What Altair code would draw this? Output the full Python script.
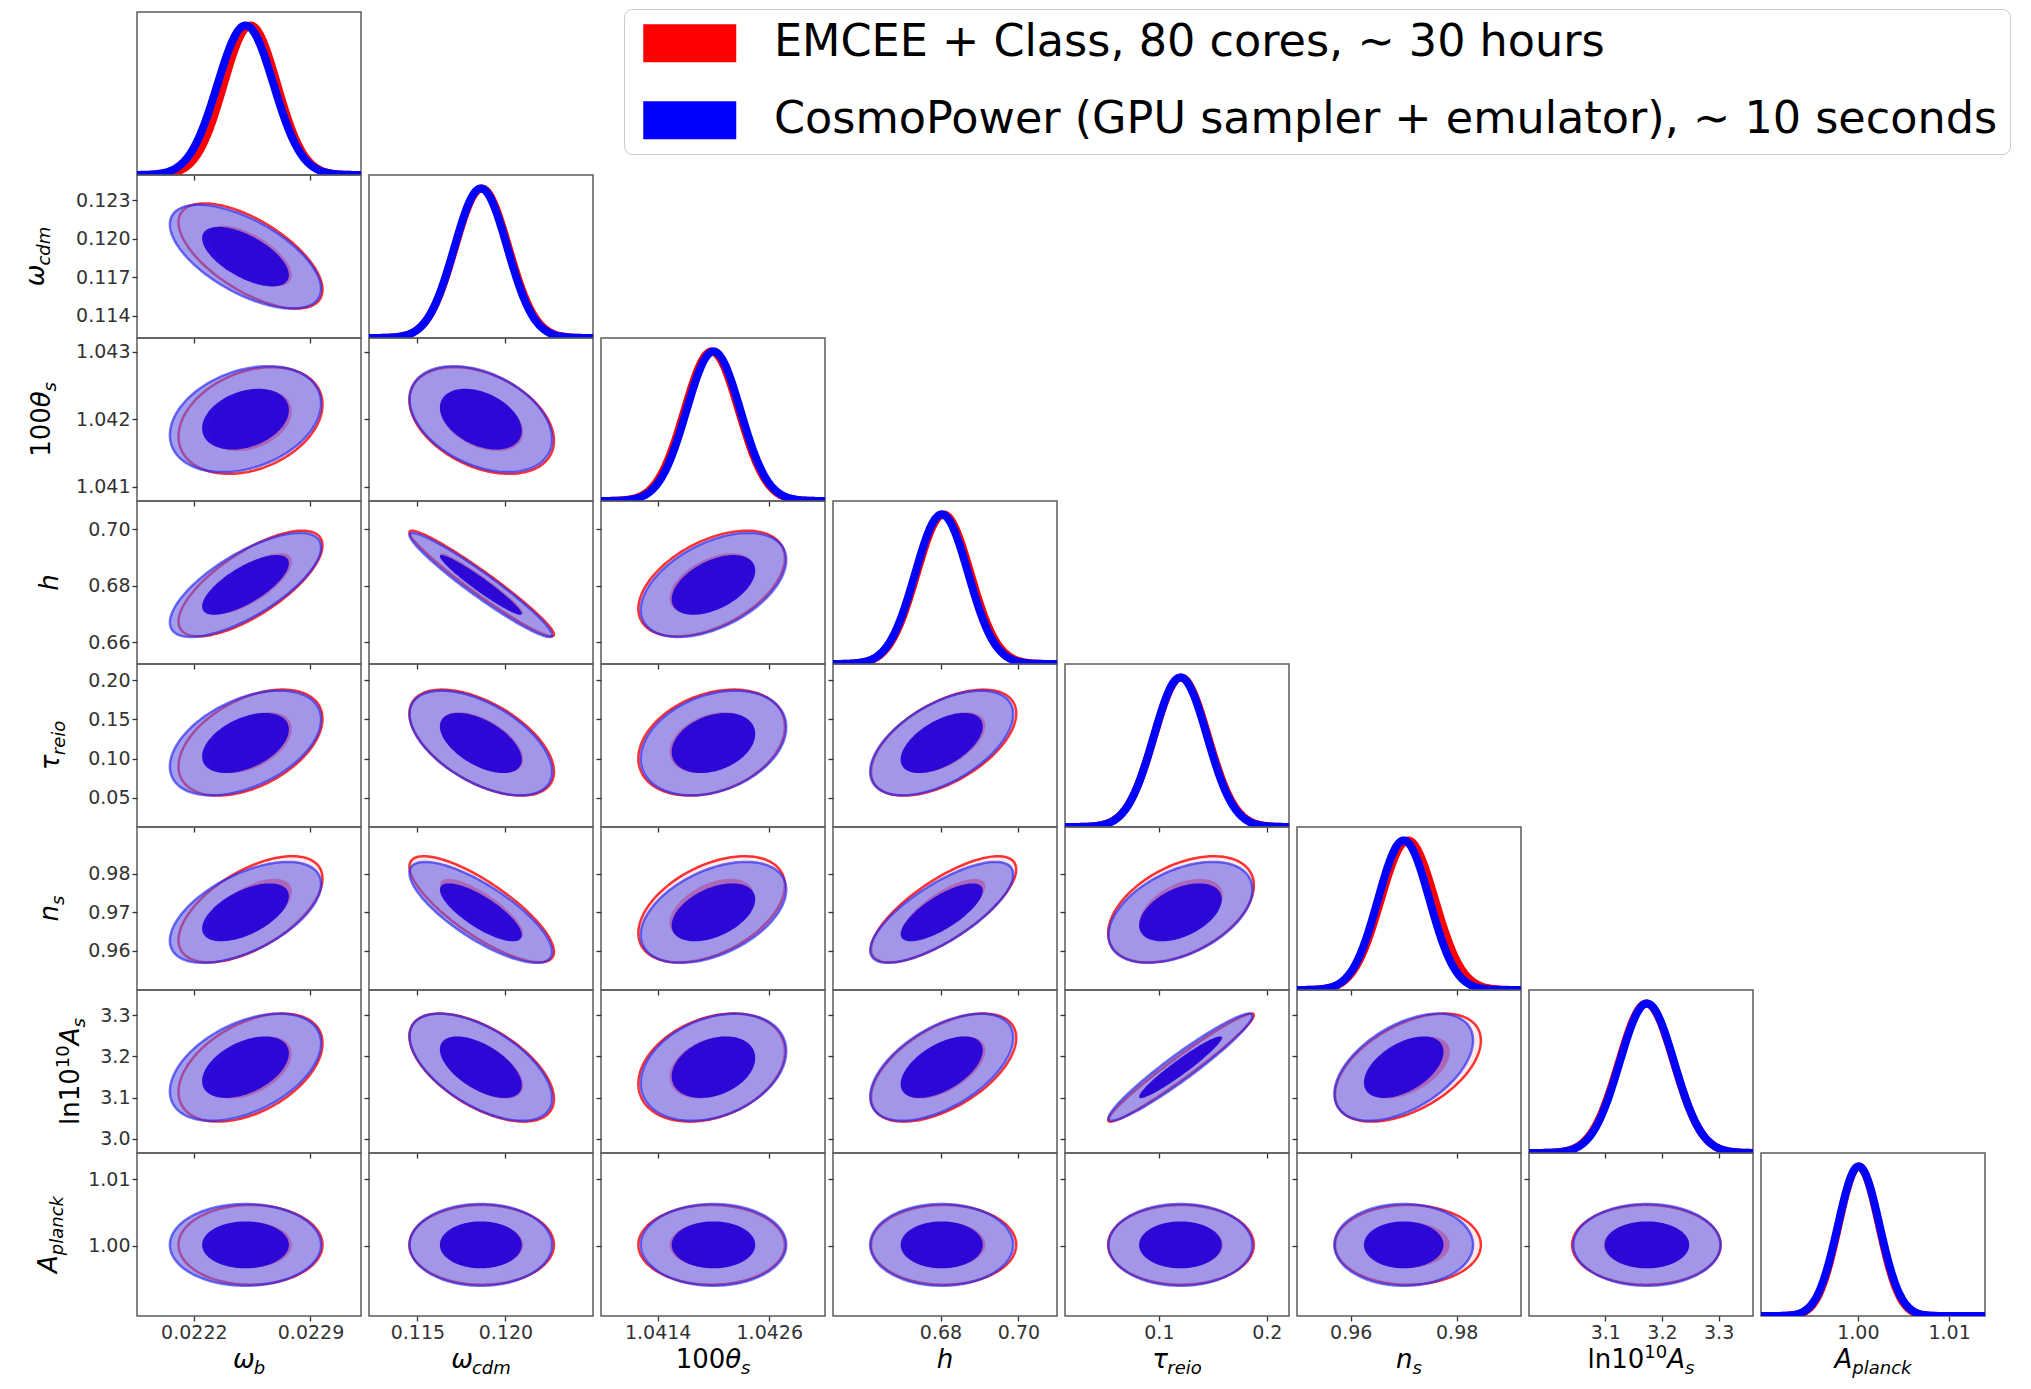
import numpy as np
import pandas as pd
import altair as alt

# ---------------- data ----------------
PARAMS = ["omega_b", "omega_cdm", "100theta_s", "h", "tau_reio", "n_s", "ln10^10A_s", "A_planck"]
LO = [0.021859, 0.11225, 1.040790, 0.65240, 0.0130, 0.94985, 2.9655, 0.98939]
HI = [0.023203, 0.12497, 1.043200, 0.70990, 0.2206, 0.99215, 3.3606, 1.01393]
XTICKS = [[0.0222, 0.0229], [0.115, 0.120], [1.0414, 1.0426], [0.68, 0.70],
          [0.1, 0.2], [0.96, 0.98], [3.1, 3.2, 3.3], [1.00, 1.01]]
XFMT = [".4f", ".3f", ".4f", ".2f", ".1f", ".2f", ".1f", ".2f"]
YTICKS = [[], [0.114, 0.117, 0.120, 0.123], [1.041, 1.042, 1.043], [0.66, 0.68, 0.70],
          [0.05, 0.10, 0.15, 0.20], [0.96, 0.97, 0.98], [3.0, 3.1, 3.2, 3.3], [1.00, 1.01]]
YFMT = ["", ".3f", ".3f", ".2f", ".2f", ".2f", ".1f", ".2f"]

MEAN_RED = [0.02254, 0.11865, 1.04198, 0.6808, 0.1205, 0.9708, 3.1725, 1.0001]
MEAN_BLUE = [0.02251, 0.11860, 1.04200, 0.6803, 0.1200, 0.9700, 3.1735, 1.0001]
SIG_RED = [0.000160, 0.00152, 0.000292, 0.0069, 0.0250, 0.00510, 0.0485, 0.00222]
SIG_BLUE = [0.000168, 0.00150, 0.000290, 0.0068, 0.0247, 0.00485, 0.0481, 0.00228]

CORR_RED = [
    [],
    [-0.64],
    [0.30, -0.38],
    [0.72, -0.965, 0.48],
    [0.45, -0.55, 0.30, 0.55],
    [0.58, -0.80, 0.45, 0.75, 0.45],
    [0.45, -0.58, 0.30, 0.55, 0.970, 0.50],
    [0.0, 0.0, 0.0, 0.0, 0.0, 0.0, 0.0],
]
CORR_BLUE = [
    [],
    [-0.62],
    [0.30, -0.38],
    [0.72, -0.960, 0.48],
    [0.45, -0.55, 0.30, 0.55],
    [0.56, -0.78, 0.45, 0.75, 0.45],
    [0.45, -0.58, 0.30, 0.55, 0.955, 0.50],
    [0.0, 0.0, 0.0, 0.0, 0.0, 0.0, 0.0],
]
LEVELS = {"inner": 1.55, "outer": 2.7}

LABEL_RED = "EMCEE + Class, 80 cores, \u223c 30 hours"
LABEL_BLUE = "CosmoPower (GPU sampler + emulator), \u223c 10 seconds"

# axis titles: (text, kind) kind: r=roman, i=italic, sub, sup
TITLES = [
    [("\u03c9", "i"), ("b", "sub")],
    [("\u03c9", "i"), ("cdm", "sub")],
    [("100", "r"), ("\u03b8", "i"), ("s", "sub")],
    [("h", "i")],
    [("\u03c4", "i"), ("reio", "sub")],
    [("n", "i"), ("s", "sub")],
    [("ln10", "r"), ("10", "sup"), ("A", "i"), ("s", "sub")],
    [("A", "i"), ("planck", "sub")],
]
YTITLE_BASE = [0, -93, -87, -79, -78, -79, -58, -80]

# ---------------- layout / style ----------------
W, H = 224, 163
FONT = "DejaVu Sans"
ONE = pd.DataFrame({"k": [0]})
S_MAIN, S_SUB = 26, 18
CW = {"0": .636, "1": .636, "2": .636, "3": .636, "4": .636, "5": .636, "6": .636,
      "7": .636, "8": .636, "9": .636, "l": .278, "n": .634, "h": .634, "A": .684,
      "b": .635, "c": .550, "d": .635, "m": .974, "s": .521, "r": .411, "e": .615,
      "i": .278, "o": .612, "p": .635, "a": .613, "k": .579,
      "\u03c9": .80, "\u03b8": .60, "\u03c4": .58}

STYLE = [
    ("red", "outer", dict(fill="#ff3030", fillOpacity=0.10, stroke="#ff0000", strokeWidth=2.5, strokeOpacity=0.8)),
    ("blue", "outer", dict(fill="#645de6", fillOpacity=0.60, stroke="#2626f0", strokeWidth=2.5, strokeOpacity=0.65)),
    ("red", "inner", dict(fill="#c00050", fillOpacity=0.30)),
    ("blue", "inner", dict(fill="#2200d8", fillOpacity=0.93)),
]

SWATCH = "M-2.447,-1H2.447V1H-2.447Z"


def tw(s, size):
    return sum(CW.get(c, 0.6) for c in s) * size


def title_parts(p):
    out, cum = [], 0.0
    for txt, kind in TITLES[p]:
        size = S_MAIN if kind in ("i", "r") else S_SUB
        shift = 0 if kind in ("i", "r") else (6 if kind == "sub" else -10)
        style = "italic" if kind in ("i", "sub") else "normal"
        out.append((txt, size, style, cum, shift))
        cum += tw(txt, size)
    return out, cum


def title_layers(p, horizontal):
    parts, total = title_parts(p)
    layers = []
    for txt, size, style, cum, shift in parts:
        if horizontal:
            x, y, ang = W / 2 - total / 2 + cum, H + 52 + shift, 0
        else:
            x, y, ang = YTITLE_BASE[p] + shift, H / 2 + total / 2 - cum, 270
        layers.append(
            alt.Chart(ONE).mark_text(text=txt, font=FONT, fontSize=size, fontStyle=style,
                                     align="left", baseline="alphabetic", angle=ang,
                                     color="black")
            .encode(x=alt.value(x), y=alt.value(y))
        )
    return layers


def xenc(j, show):
    return alt.X("x:Q", scale=alt.Scale(domain=[LO[j], HI[j]], nice=False, zero=False),
                 axis=alt.Axis(values=XTICKS[j], format=XFMT[j], labels=show, title=None))


def yenc(i, show):
    return alt.Y("y:Q", scale=alt.Scale(domain=[LO[i], HI[i]], nice=False, zero=False),
                 axis=alt.Axis(values=YTICKS[i], format=YFMT[i], labels=show, title=None))


def ellipse(mx, my, sx, sy, rho, k, n=90):
    t = np.linspace(0, np.pi, n)
    u = -np.cos(t)
    x = mx + k * sx * u
    yc = my + rho * k * sy * u
    half = k * sy * np.sqrt(1 - rho ** 2) * np.sqrt(np.clip(1 - u ** 2, 0, None))
    return pd.DataFrame({"x": x, "y": yc - half, "y2": yc + half})


def off_panel(i, j):
    runs = {
        "red": (MEAN_RED, SIG_RED, CORR_RED[i][j]),
        "blue": (MEAN_BLUE, SIG_BLUE, CORR_BLUE[i][j]),
    }
    layers = []
    for run, lev, st in STYLE:
        m, s, rho = runs[run]
        df = ellipse(m[j], m[i], s[j], s[i], rho, LEVELS[lev])
        layers.append(
            alt.Chart(df).mark_area(interpolate="linear", **st)
            .encode(x=xenc(j, i == 7), y=yenc(i, j == 0), y2="y2:Q")
        )
    if j == 0:
        layers += title_layers(i, False)
    if i == 7:
        layers += title_layers(j, True)
    return alt.layer(*layers).properties(width=W, height=H)


LEGEND = alt.Legend(orient="none", legendX=487, legendY=-3, title=None, direction="vertical",
                    symbolType=SWATCH, symbolSize=1444, symbolStrokeWidth=0,
                    symbolOffset=31.5, symbolOpacity=1,
                    labelFont=FONT, labelFontSize=44.5, labelColor="black", labelLimit=2000,
                    labelOffset=62, rowPadding=32, padding=12, strokeColor="#cccccc",
                    cornerRadius=8, fillColor="white")


def diag_panel(i):
    xs = np.linspace(LO[i], HI[i], 240)
    dfr = pd.DataFrame({"x": xs, "y": np.exp(-0.5 * ((xs - MEAN_RED[i]) / SIG_RED[i]) ** 2)})
    dfb = pd.DataFrame({"x": xs, "y": np.exp(-0.5 * ((xs - MEAN_BLUE[i]) / SIG_BLUE[i]) ** 2)})
    xe = xenc(i, i == 7)
    ye = alt.Y("y:Q", scale=alt.Scale(domain=[0, 1.09], nice=False, zero=False), axis=None)
    lr = alt.Chart(dfr).mark_line(clip=True, color="#ff0000").encode(x=xe, y=ye, size=alt.value(8))
    lb = alt.Chart(dfb).mark_line(clip=True, color="#0000ff").encode(x=xe, y=ye, size=alt.value(8))
    layers = [lr, lb]
    if i == 0:
        legdf = pd.DataFrame({"x": [MEAN_RED[0], MEAN_BLUE[0]], "y": [0.5, 0.5],
                              "run": [LABEL_RED, LABEL_BLUE]})
        col = alt.Color("run:N", scale=alt.Scale(domain=[LABEL_RED, LABEL_BLUE],
                                                 range=["#ff0000", "#0000ff"]), legend=LEGEND)
        layers.append(alt.Chart(legdf).mark_point(filled=True, opacity=0, shape=SWATCH, size=10)
                      .encode(x=xe, y=ye, color=col))
    if i == 7:
        layers += title_layers(i, True)
    return alt.layer(*layers).properties(width=W, height=H)


def empty_panel():
    return (alt.Chart(ONE).mark_point(opacity=0)
            .encode(x=alt.X("k:Q", axis=None), y=alt.Y("k:Q", axis=None))
            .properties(width=W, height=H, view=alt.ViewBackground(strokeOpacity=0)))


cells = []
for i in range(8):
    for j in range(8):
        if j < i:
            cells.append(off_panel(i, j))
        elif j == i:
            cells.append(diag_panel(i))
        else:
            cells.append(empty_panel())

chart = (
    alt.concat(*cells, columns=8, spacing={"row": 0, "column": 8}, bounds="flush")
    .resolve_scale(x="independent", y="independent")
    .properties(padding={"left": 14, "top": 0, "right": 0, "bottom": 0}, background="white")
    .configure_view(stroke="#5c5c5c", strokeWidth=1.5)
    .configure_axis(domain=False, grid=False, ticks=True, tickSize=5, tickColor="#333333",
                    tickWidth=1.3, labelFont=FONT, labelFontSize=19, labelColor="#333333",
                    labelPadding=2, labelOverlap=False, labelFlush=False)
)

chart.save("out.html", embed_options={"renderer": "svg", "actions": False})
